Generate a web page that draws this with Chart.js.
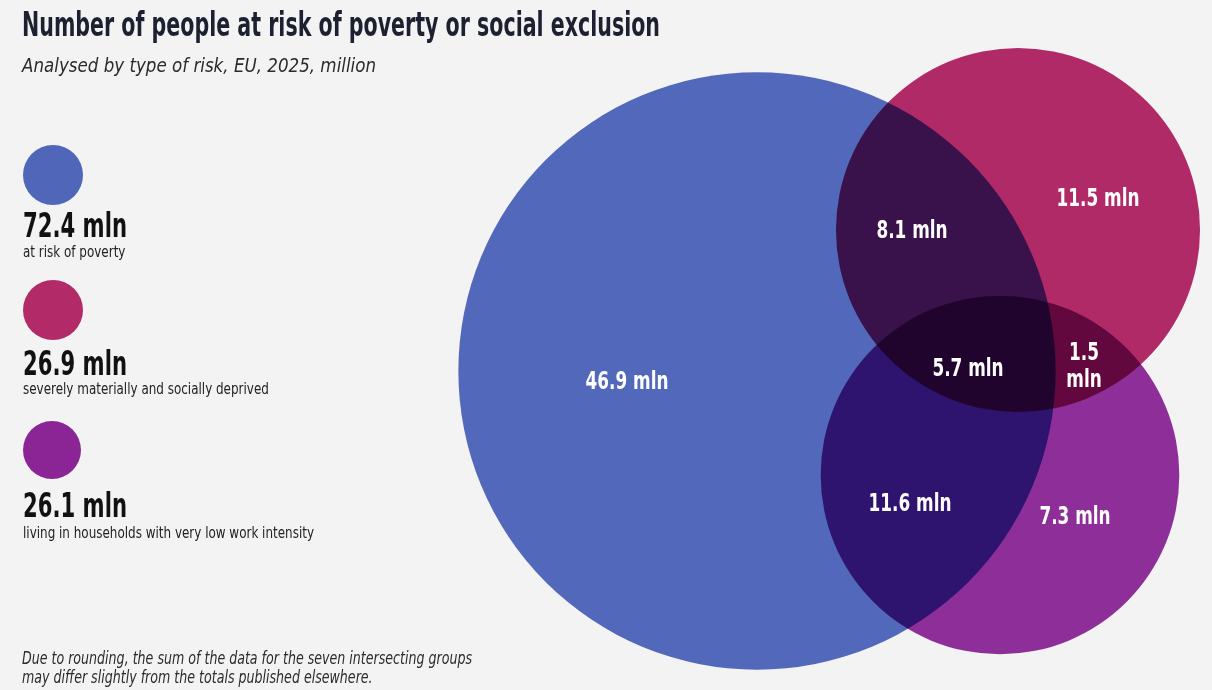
<!DOCTYPE html>
<html>
<head>
<meta charset="utf-8">
<script src="https://cdn.jsdelivr.net/npm/chart.js@4.4.1/dist/chart.umd.min.js"></script>
<style>
  html, body { margin: 0; padding: 0; background: #f3f3f3; }
  #wrap { position: relative; width: 1212px; height: 690px; }
</style>
</head>
<body>
<div id="wrap"><canvas id="venn" width="1212" height="690"></canvas></div>
<script>
// Values (million people, EU 2025)
const groupNames = ['At risk of poverty', 'Severely materially and socially deprived', 'Very low work intensity'];
const groupTotals = [72.4, 26.9, 26.1];
const groupDescriptions = [
    'at risk of poverty',
    'severely materially and socially deprived',
    'living in households with very low work intensity'
];
const regionNames = ['Poverty only', 'Poverty + deprivation', 'Deprivation only', 'All three',
    'Deprivation + low work', 'Poverty + low work', 'Low work only'];
const regionValues = [46.9, 8.1, 11.5, 5.7, 1.5, 11.6, 7.3];
const unit = 'mln';

const titleText = 'Number of people at risk of poverty or social exclusion';
const subtitleText = 'Analysed by type of risk, EU, 2025, million';
const footnoteLines = [
    'Due to rounding, the sum of the data for the seven intersecting groups',
    'may differ slightly from the totals published elsewhere.'
];

// Layout (axis units match canvas pixels)
const circleCenters = [[757, 371], [1018, 230], [1000, 475]];
const radiusPerSqrtMln = 35.1;
const regionLabelPos = [[627, 380], [912, 229], [1098, 197], [968, 367], [1084, 364], [910, 502], [1075, 515]];
const regionLabelWrap = [false, false, false, false, true, false, false];
const circleColors = ['#5268ba', '#b02a68', '#8e2e98'];
const legendColors = ['#4f66b9', '#b22b68', '#8b2494'];
const legendCircles = [[53, 175, 30], [53, 310, 30], [52, 450, 29]];
const legendNumberBase = [237, 375, 517];
const legendDescBase = [257, 394, 538];

const condensed = '"Liberation Sans Narrow", "DejaVu Sans Condensed", "Arial Narrow", "Liberation Sans", sans-serif';

function fitScale(ctx, str, font, width) {
    ctx.save();
    ctx.font = font;
    const w = ctx.measureText(str).width;
    ctx.restore();
    return width / w;
}

function drawText(ctx, str, x, y, font, color, align, sx) {
    ctx.save();
    ctx.font = font;
    ctx.fillStyle = color;
    ctx.textAlign = align;
    ctx.textBaseline = 'alphabetic';
    ctx.translate(x, y);
    ctx.scale(sx, 1);
    ctx.fillText(str, 0, 0);
    ctx.restore();
}

const vennPlugin = {
    id: 'venn',
    // overlapping areas get darker, like the original
    beforeDatasetsDraw(chart) {
        chart.ctx.save();
        chart.ctx.globalCompositeOperation = 'multiply';
    },
    afterDatasetsDraw(chart) {
        const ctx = chart.ctx;
        ctx.restore();
        const xs = chart.scales.x, ys = chart.scales.y;

        // labels inside the circles
        const font = 'bold 25px ' + condensed;
        const sx = fitScale(ctx, '46.9 ' + unit, font, 83);
        regionValues.forEach((v, i) => {
            const px = xs.getPixelForValue(regionLabelPos[i][0]);
            const py = ys.getPixelForValue(regionLabelPos[i][1]);
            const lines = regionLabelWrap[i] ? [v.toFixed(1), unit] : [v.toFixed(1) + ' ' + unit];
            lines.forEach((t, j) => {
                const y = py + (j - (lines.length - 1) / 2) * 27 + 9;
                drawText(ctx, t, px, y, font, '#ffffff', 'center', sx);
            });
        });
    },
    afterDraw(chart) {
        const ctx = chart.ctx;

        // title and subtitle
        let f = 'bold 34px ' + condensed;
        drawText(ctx, titleText, 22, 36, f, '#1d2030', 'left', fitScale(ctx, titleText, f, 638));
        f = 'italic 20px ' + condensed;
        drawText(ctx, subtitleText, 22, 72, f, '#2b2b2b', 'left', fitScale(ctx, subtitleText, f, 354));

        // legend: circle, total and description
        const numFont = 'bold 33px ' + condensed;
        const numSx = fitScale(ctx, '72.4 ' + unit, numFont, 104);
        const descFont = '16px ' + condensed;
        const descSx = fitScale(ctx, groupDescriptions[2], descFont, 291);
        groupTotals.forEach((v, i) => {
            const c = legendCircles[i];
            ctx.beginPath();
            ctx.arc(c[0], c[1], c[2], 0, Math.PI * 2);
            ctx.fillStyle = legendColors[i];
            ctx.fill();
            drawText(ctx, v.toFixed(1) + ' ' + unit, 23, legendNumberBase[i], numFont, '#111111', 'left', numSx);
            drawText(ctx, groupDescriptions[i], 23, legendDescBase[i], descFont, '#222222', 'left', descSx);
        });

        // footnote
        f = 'italic 18px ' + condensed;
        const fSx = fitScale(ctx, footnoteLines[0], f, 450);
        footnoteLines.forEach((t, i) => {
            drawText(ctx, t, 22, 664 + i * 19, f, '#2b2b2b', 'left', fSx);
        });
    }
};

// circle area proportional to the group total (axis units == pixels here)
new Chart(document.getElementById('venn'), {
    type: 'bubble',
    data: {
        datasets: [{
            label: 'People at risk (mln)',
            data: groupTotals.map((v, i) => ({
                x: circleCenters[i][0],
                y: circleCenters[i][1],
                r: radiusPerSqrtMln * Math.sqrt(v),
                name: groupNames[i]
            })),
            backgroundColor: circleColors,
            borderWidth: 0
        }]
    },
    options: {
        responsive: false,
        animation: false,
        events: [],
        layout: { padding: 0, autoPadding: false },
        scales: {
            x: { type: 'linear', min: 0, max: 1212, display: false },
            y: { type: 'linear', min: 0, max: 690, reverse: true, display: false }
        },
        plugins: {
            legend: { display: false },
            tooltip: { enabled: false }
        }
    },
    plugins: [vennPlugin]
});
</script>
</body>
</html>
